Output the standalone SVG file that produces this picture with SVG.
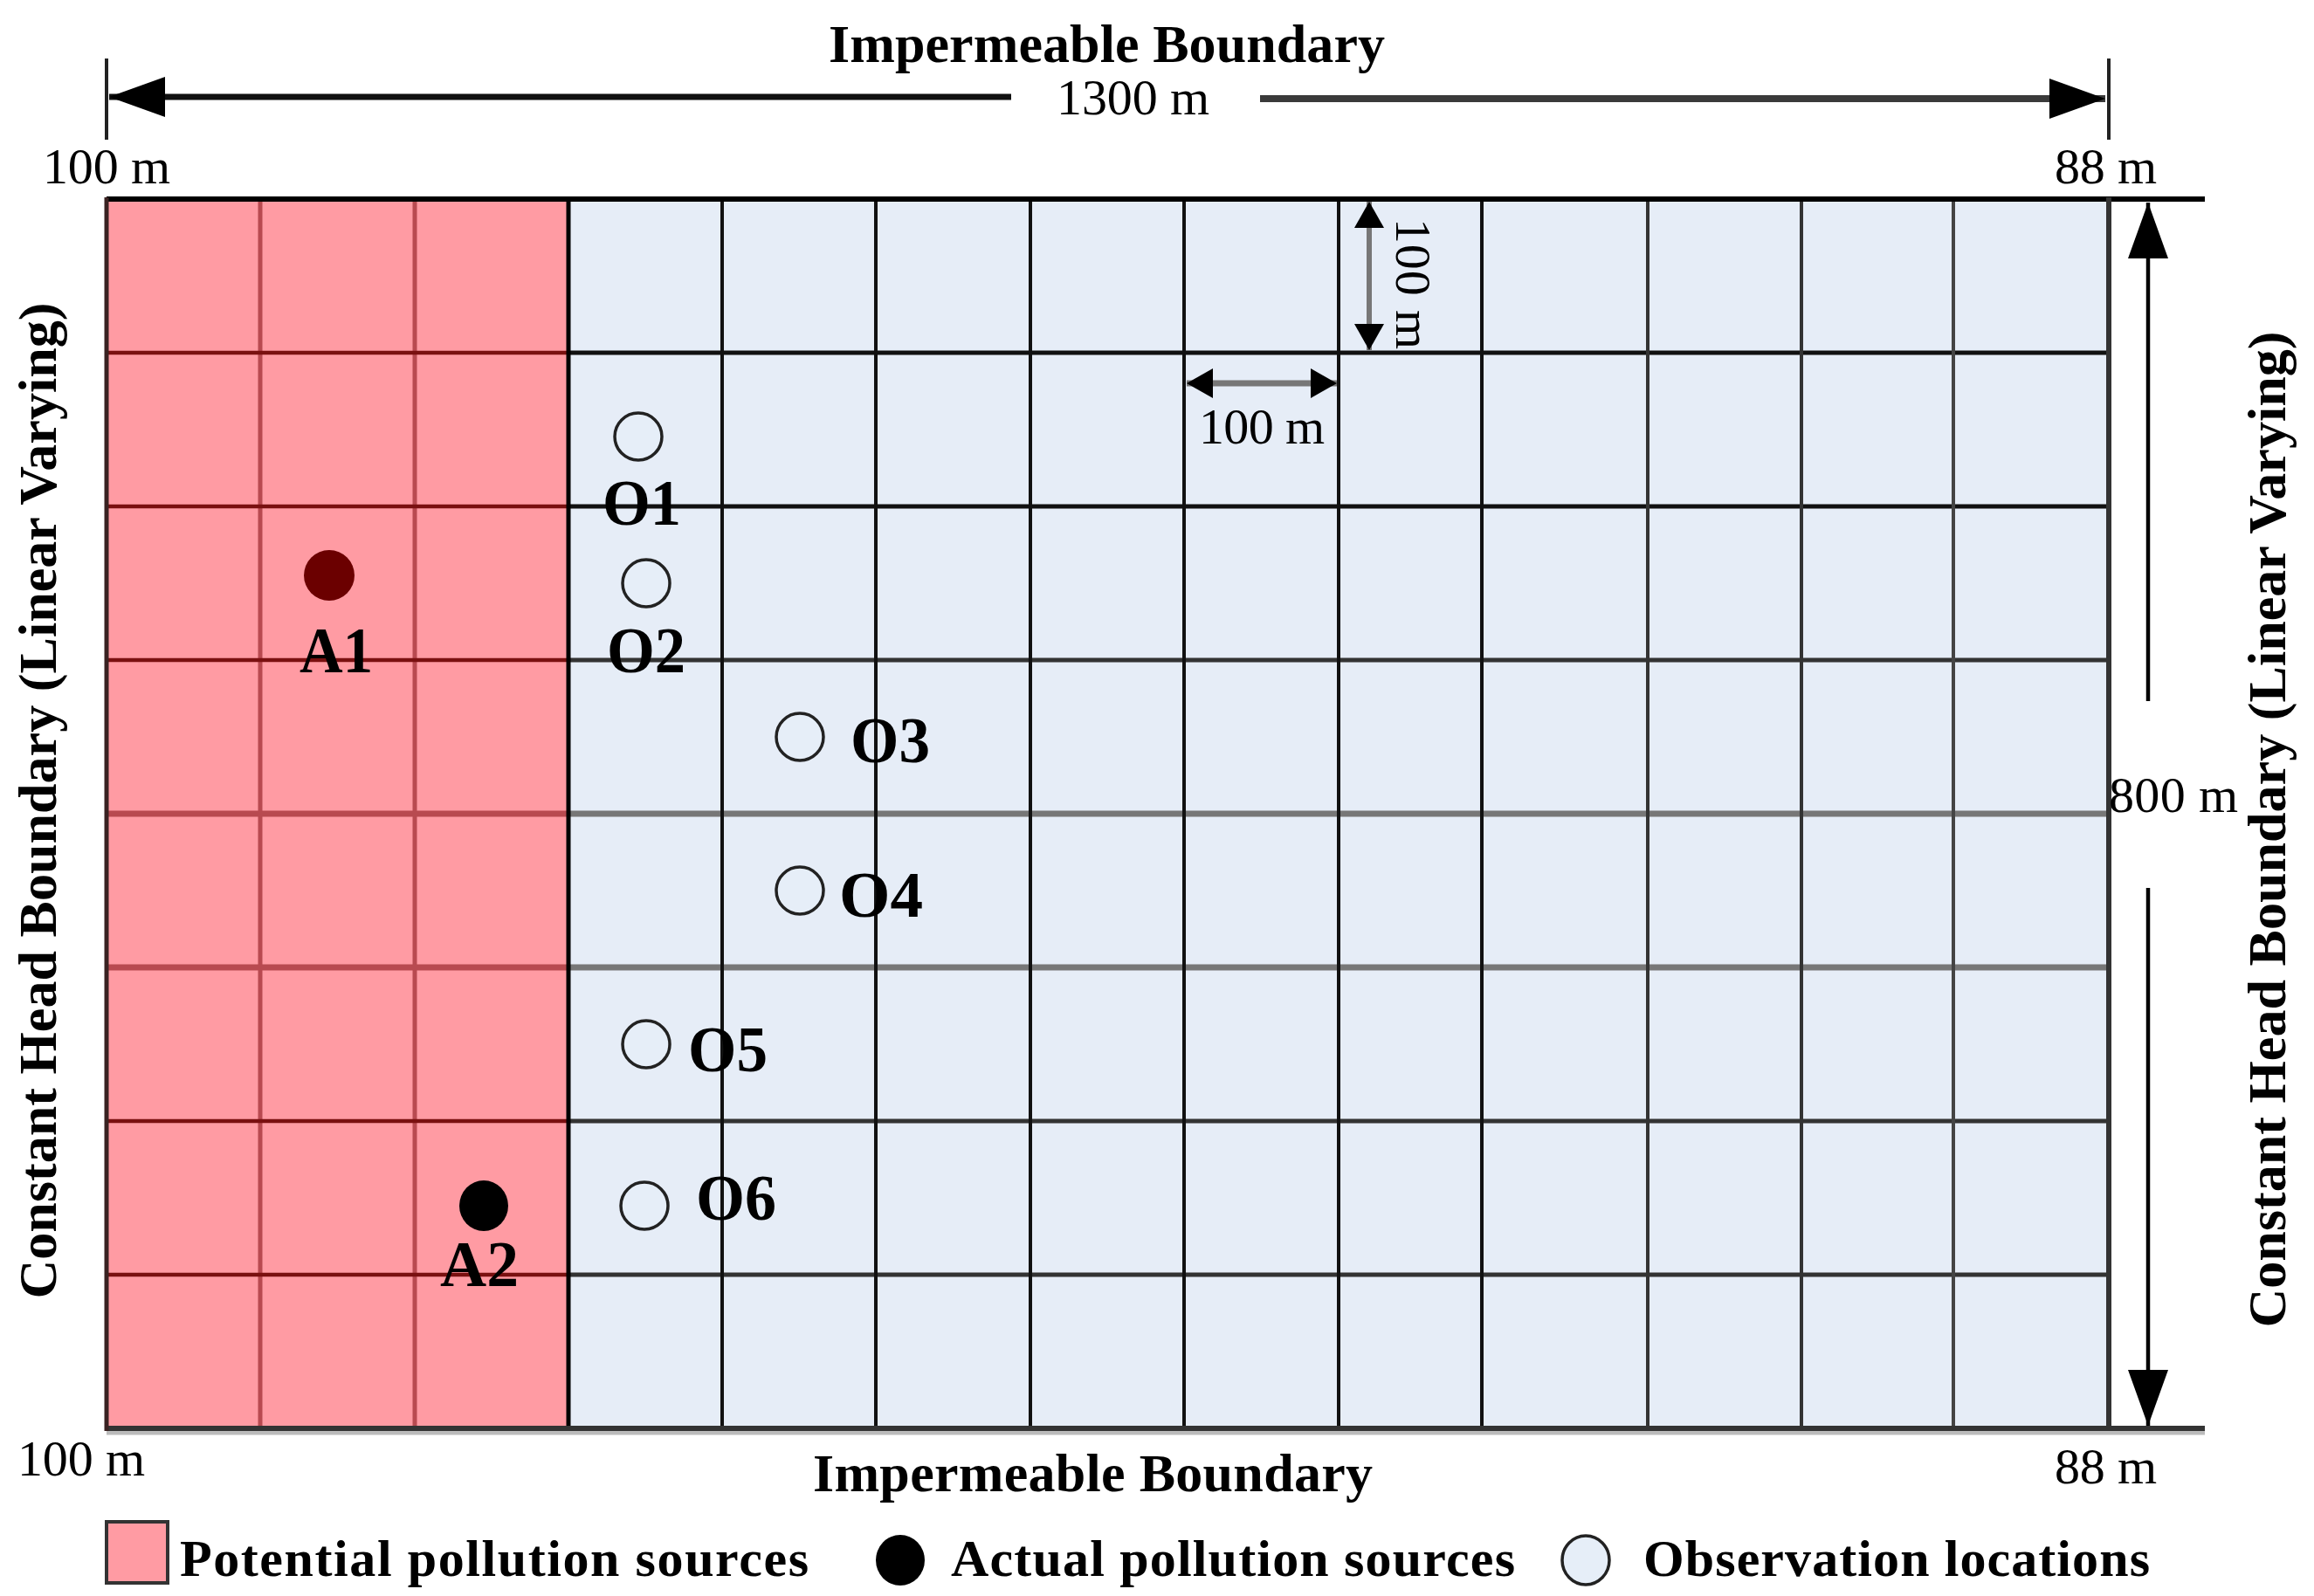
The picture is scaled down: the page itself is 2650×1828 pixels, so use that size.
<svg xmlns="http://www.w3.org/2000/svg" width="2650" height="1828" viewBox="0 0 2650 1828">
<defs>
<marker id="bigArrow" markerUnits="userSpaceOnUse" viewBox="0 0 64 46" refX="64" refY="23" markerWidth="64" markerHeight="46" orient="auto-start-reverse"><path d="M0,0 L64,23 L0,46 Z" fill="#000"/></marker>
<marker id="smallArrow" markerUnits="userSpaceOnUse" viewBox="0 0 30 34" refX="30" refY="17" markerWidth="30" markerHeight="34" orient="auto-start-reverse"><path d="M0,0 L30,17 L0,34 Z" fill="#000"/></marker>
</defs>
<style>
.lbl{font-family:"Liberation Serif","Times New Roman",serif;font-weight:bold;font-size:74px;fill:#000}
.dim{font-family:"Liberation Serif","Times New Roman",serif;font-size:58px;fill:#000}
.title{font-family:"Liberation Serif","Times New Roman",serif;font-weight:bold;font-size:62px;fill:#000}
.leg{font-family:"Liberation Serif","Times New Roman",serif;font-weight:bold;font-size:60px;fill:#000}
.obs{fill:#E6EEF8;stroke:#222;stroke-width:3.5}
.pv{stroke:#B84A50;stroke-width:5}
.ph{stroke:#7A1010;stroke-width:4.5}
.ph2{stroke:#B84A50;stroke-width:7}
.bv{stroke:#111;stroke-width:4}
.bh{stroke:#111;stroke-width:5}
.bh2{stroke:#777;stroke-width:7}
</style>
<rect width="2650" height="1828" fill="#fff"/>

<g id="grid">
<rect x="122" y="228" width="528" height="1408" fill="#FF9BA3"/>
<rect x="650" y="228" width="1765" height="1408" fill="#E6EDF7"/>
<!-- pink lines -->
<line class="pv" x1="298" y1="228" x2="298" y2="1636"/>
<line class="pv" x1="475" y1="228" x2="475" y2="1636"/>
<line class="ph" x1="122" y1="404" x2="650" y2="404"/>
<line class="ph" x1="122" y1="580" x2="650" y2="580"/>
<line class="ph" x1="122" y1="756" x2="650" y2="756"/>
<line class="ph2" x1="122" y1="932" x2="650" y2="932"/>
<line class="ph2" x1="122" y1="1108" x2="650" y2="1108"/>
<line class="ph" x1="122" y1="1284" x2="650" y2="1284"/>
<line class="ph" x1="122" y1="1460" x2="650" y2="1460"/>
<!-- blue lines -->
<line class="bh" x1="650" y1="404" x2="2415" y2="404"/>
<line class="bh" x1="650" y1="580" x2="2415" y2="580" stroke="#222"/>
<line class="bh" x1="650" y1="756" x2="2415" y2="756" style="stroke:#333"/>
<line class="bh2" x1="650" y1="932" x2="2415" y2="932"/>
<line class="bh2" x1="650" y1="1108" x2="2415" y2="1108"/>
<line class="bh" x1="650" y1="1284" x2="2415" y2="1284" style="stroke:#333"/>
<line class="bh" x1="650" y1="1460" x2="2415" y2="1460" style="stroke:#333"/>
<line class="bv" x1="827" y1="228" x2="827" y2="1636"/>
<line class="bv" x1="1003" y1="228" x2="1003" y2="1636"/>
<line class="bv" x1="1180" y1="228" x2="1180" y2="1636"/>
<line class="bv" x1="1356" y1="228" x2="1356" y2="1636"/>
<line class="bv" x1="1533" y1="228" x2="1533" y2="1636"/>
<line class="bv" x1="1697" y1="228" x2="1697" y2="1636"/>
<line class="bv" x1="1887" y1="228" x2="1887" y2="1636" style="stroke:#333"/>
<line class="bv" x1="2063" y1="228" x2="2063" y2="1636" style="stroke:#333"/>
<line class="bv" x1="2237" y1="228" x2="2237" y2="1636" style="stroke:#444"/>
<!-- divider and borders -->
<line x1="651" y1="228" x2="651" y2="1636" stroke="#000" stroke-width="5"/>
<line x1="122" y1="1641" x2="2525" y2="1641" stroke="#bbb" stroke-width="5"/>
<line x1="122" y1="1636" x2="2525" y2="1636" stroke="#333" stroke-width="6"/>
<line x1="122" y1="228" x2="2525" y2="228" stroke="#000" stroke-width="6"/>
<line x1="122" y1="226" x2="122" y2="1639" stroke="#3a2222" stroke-width="5"/>
<line x1="2415" y1="226" x2="2415" y2="1639" stroke="#333" stroke-width="6"/>
</g>

<g id="connectors">
<!-- top 1300 m dimension -->
<line x1="122" y1="67" x2="122" y2="160" stroke="#222" stroke-width="4"/>
<line x1="2415" y1="67" x2="2415" y2="160" stroke="#222" stroke-width="4"/>
<line x1="1158" y1="111" x2="125" y2="111" stroke="#111" stroke-width="7" marker-end="url(#bigArrow)"/>
<line x1="1443" y1="113" x2="2411" y2="113" stroke="#3a3a3a" stroke-width="8" marker-end="url(#bigArrow)"/>
<!-- right 800 m dimension -->
<line x1="2460" y1="803" x2="2460" y2="232" stroke="#000" stroke-width="4.5" marker-end="url(#bigArrow)"/>
<line x1="2460" y1="1017" x2="2460" y2="1633" stroke="#000" stroke-width="4.5" marker-end="url(#bigArrow)"/>
<!-- cell dimensions -->
<line x1="1359" y1="439" x2="1531" y2="439" stroke="#777" stroke-width="7" marker-start="url(#smallArrow)" marker-end="url(#smallArrow)"/>
<line x1="1568" y1="231" x2="1568" y2="401" stroke="#777" stroke-width="6" marker-start="url(#smallArrow)" marker-end="url(#smallArrow)"/>
</g>

<g id="labels">
<text class="title" x="949" y="71" textLength="637" lengthAdjust="spacing">Impermeable Boundary</text>
<text class="title" x="931" y="1708" textLength="641" lengthAdjust="spacing">Impermeable Boundary</text>
<text class="dim" x="1210" y="131" textLength="175" lengthAdjust="spacing">1300 m</text>
<text class="dim" x="49" y="210" textLength="146" lengthAdjust="spacing">100 m</text>
<text class="dim" x="2353" y="210" textLength="117" lengthAdjust="spacing">88 m</text>
<text class="dim" x="20" y="1690" textLength="146" lengthAdjust="spacing">100 m</text>
<text class="dim" x="2353" y="1699" textLength="117" lengthAdjust="spacing">88 m</text>
<text class="dim" x="2415" y="930" textLength="148" lengthAdjust="spacing">800 m</text>
<text class="dim" x="1373" y="508" textLength="144" lengthAdjust="spacing">100 m</text>
<text class="dim" transform="translate(1599,250) rotate(90)" x="0" y="0" textLength="150" lengthAdjust="spacing">100 m</text>
<text class="title" transform="translate(64,917) rotate(-90)" x="0" y="0" text-anchor="middle" textLength="1141" lengthAdjust="spacing">Constant Head Boundary (Linear Varying)</text>
<text class="title" transform="translate(2617,950) rotate(-90)" x="0" y="0" text-anchor="middle" textLength="1141" lengthAdjust="spacing">Constant Head Boundary (Linear Varying)</text>
</g>

<g id="A1"><circle cx="377" cy="659" r="29" fill="#6B0000"/><text class="lbl" x="343" y="770" textLength="84" lengthAdjust="spacingAndGlyphs">A1</text></g>
<g id="A2"><ellipse cx="554" cy="1381" rx="28" ry="29" fill="#000"/><text class="lbl" x="504" y="1473" textLength="90" lengthAdjust="spacingAndGlyphs">A2</text></g>
<g id="O1"><circle class="obs" cx="731" cy="500" r="27"/><text class="lbl" x="690" y="601" textLength="90" lengthAdjust="spacingAndGlyphs">O1</text></g>
<g id="O2"><circle class="obs" cx="740" cy="668" r="27"/><text class="lbl" x="695" y="770" textLength="90" lengthAdjust="spacingAndGlyphs">O2</text></g>
<g id="O3"><circle class="obs" cx="916" cy="844" r="27"/><text class="lbl" x="974" y="873" textLength="91" lengthAdjust="spacingAndGlyphs">O3</text></g>
<g id="O4"><circle class="obs" cx="916" cy="1020" r="27"/><text class="lbl" x="961" y="1050" textLength="96" lengthAdjust="spacingAndGlyphs">O4</text></g>
<g id="O5"><circle class="obs" cx="740" cy="1196" r="27"/><text class="lbl" x="788" y="1227" textLength="91" lengthAdjust="spacingAndGlyphs">O5</text></g>
<g id="O6"><circle class="obs" cx="738" cy="1381" r="27"/><text class="lbl" x="797" y="1397" textLength="92" lengthAdjust="spacingAndGlyphs">O6</text></g>

<g id="legend">
<g id="legend-potential"><rect x="122" y="1743" width="70" height="70" fill="#FF9BA3" stroke="#333" stroke-width="4"/><text class="leg" x="206" y="1805" textLength="720" lengthAdjust="spacing">Potential pollution sources</text></g>
<g id="legend-actual"><ellipse cx="1031" cy="1787" rx="28" ry="29" fill="#000"/><text class="leg" x="1089" y="1805" textLength="646" lengthAdjust="spacing">Actual pollution sources</text></g>
<g id="legend-observation"><ellipse class="obs" cx="1816" cy="1787" rx="27" ry="28"/><text class="leg" x="1882" y="1805" textLength="580" lengthAdjust="spacing">Observation locations</text></g>
</g>
</svg>
